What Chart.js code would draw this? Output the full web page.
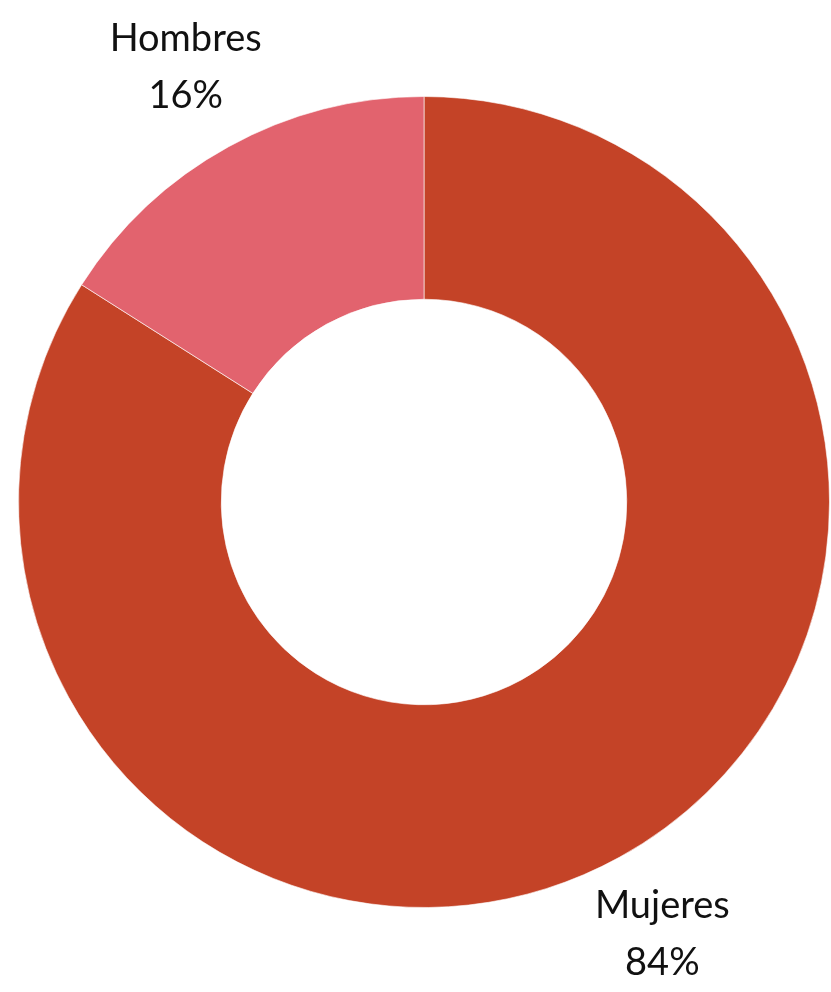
<!DOCTYPE html>
<html>
<head>
<meta charset="utf-8">
<script src="https://cdn.jsdelivr.net/npm/chart.js@4"></script>
<style>
  html, body { margin: 0; padding: 0; background: #fff; }
  #wrap { width: 831px; height: 992px; position: relative; }
</style>
</head>
<body>
<div id="wrap"><canvas id="donut"></canvas></div>
<script>
    const categories = ['Mujeres', 'Hombres'];
    const shares = [84, 16];
    const sliceColors = ['#C44327', '#E2636E'];

    // Étiquettes placées autour de l'anneau, au milieu de chaque part
    const outsideLabels = {
        id: 'outsideLabels',
        afterDraw(chart) {
            const ctx = chart.ctx;
            const meta = chart.getDatasetMeta(0);
            ctx.save();
            ctx.fillStyle = '#111';
            ctx.font = '400 38px Lato';
            ctx.textAlign = 'center';
            ctx.textBaseline = 'middle';
            meta.data.forEach((arc, i) => {
                const mid = (arc.startAngle + arc.endAngle) / 2;
                const r = arc.outerRadius * 1.22;
                const x = arc.x + Math.cos(mid) * r;
                const y = arc.y + Math.sin(mid) * r;
                ctx.fillText(categories[i], x, y - 30);
                ctx.fillText(shares[i] + '%', x, y + 27);
            });
            ctx.restore();
        }
    };

    new Chart(document.getElementById('donut'), {
        type: 'doughnut',
        data: {
            labels: categories,
            datasets: [{
                data: shares,
                backgroundColor: sliceColors,
                borderColor: 'rgba(255,255,255,0.6)',
                borderWidth: 1
            }]
        },
        options: {
            responsive: true,
            maintainAspectRatio: false,
            animation: false,
            cutout: '50%',
            layout: { padding: { left: 18, right: 1, top: 96, bottom: 84 } },
            plugins: { legend: { display: false }, tooltip: { enabled: false } }
        },
        plugins: [outsideLabels]
    });
</script>
</body>
</html>
